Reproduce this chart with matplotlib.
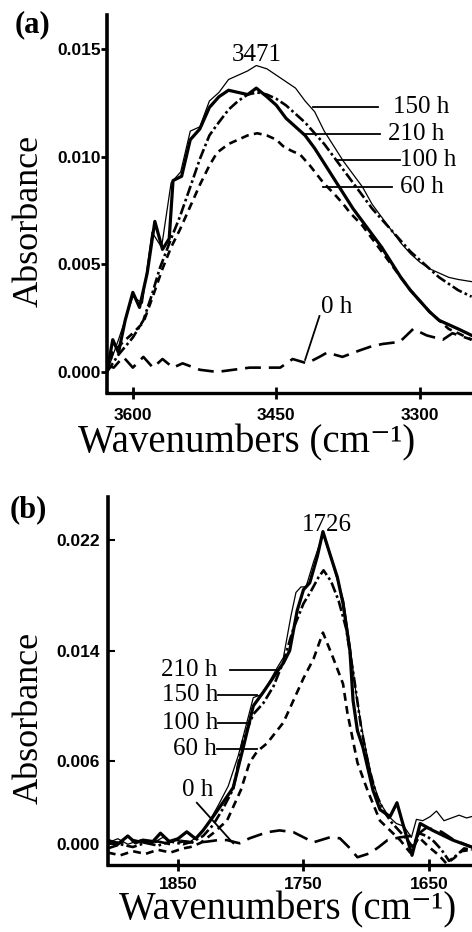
import matplotlib
matplotlib.use("Agg")
import matplotlib.pyplot as plt

plt.rcParams['font.family'] = ['Liberation Serif', 'DejaVu Serif']

# ---- panel (a): O-H region, absorbance in units of 0.001 ----
a_210_x = [3627, 3621, 3615, 3608, 3600, 3593, 3585, 3577, 3569, 3562, 3558, 3549, 3540, 3530, 3520,
           3510, 3500, 3490, 3480, 3471, 3460, 3450, 3440, 3430, 3420, 3410, 3400, 3390, 3380, 3370,
           3360, 3350, 3340, 3330, 3320, 3310, 3300, 3290, 3280, 3270, 3260, 3246]
a_210_y = [0, 1.5, 0.9, 2.4, 3.7, 3.0, 4.6, 7.0, 5.7, 6.2, 8.9, 9.1, 10.8, 11.3, 12.3,
           12.8, 13.1, 13.0, 12.9, 13.2, 12.8, 12.4, 11.8, 11.4, 11.0, 10.4, 9.7, 9.0, 8.3, 7.6,
           7.0, 6.4, 5.8, 5.1, 4.4, 3.8, 3.3, 2.8, 2.4, 2.2, 2.0, 1.7]

a_150_x = [3627, 3615, 3600, 3590, 3580, 3570, 3560, 3550, 3540, 3530, 3520, 3510, 3500, 3490,
           3480, 3471, 3460, 3450, 3440, 3430, 3420, 3410, 3400, 3390, 3380, 3370, 3360, 3350,
           3340, 3330, 3320, 3310, 3300, 3290, 3280, 3270, 3260, 3246]
a_150_y = [0, 1.5, 3.5, 3.2, 6.5, 5.8, 8.8, 9.3, 11.2, 11.4, 12.6, 13.0, 13.6, 13.8,
           14.0, 14.25, 14.1, 13.8, 13.5, 13.2, 12.6, 12.1, 11.2, 10.5, 9.8, 9.2, 8.6, 7.8,
           7.2, 6.6, 6.0, 5.5, 5.1, 4.8, 4.6, 4.4, 4.3, 4.2]

a_100_x = [3627, 3615, 3600, 3589, 3580, 3572, 3560, 3551, 3540, 3530, 3520, 3512, 3500, 3490,
           3480, 3470, 3460, 3450, 3440, 3430, 3420, 3410, 3400, 3390, 3380, 3370, 3360, 3350,
           3340, 3330, 3320, 3310, 3300, 3290, 3280, 3270, 3260, 3246]
a_100_y = [0, 0.8, 1.6, 2.4, 3.6, 4.8, 6.2, 7.2, 8.6, 9.9, 11.0, 11.5, 12.2, 12.6,
           12.9, 13.0, 12.9, 12.7, 12.4, 12.0, 11.6, 11.1, 10.6, 10.0, 9.4, 8.8, 8.2, 7.6,
           7.1, 6.6, 6.1, 5.6, 5.2, 4.8, 4.4, 4.1, 3.8, 3.5]

a_60_x = [3627, 3621, 3610, 3600, 3589, 3580, 3569, 3560, 3551, 3540, 3530, 3520, 3512, 3500,
          3490, 3480, 3470, 3460, 3450, 3443, 3435, 3425, 3415, 3401, 3390, 3380, 3373, 3360,
          3350, 3340, 3330, 3320, 3310, 3300, 3290, 3280, 3270, 3260, 3246]
a_60_y = [0, 0.9, 1.4, 1.8, 2.3, 3.4, 4.8, 5.8, 6.6, 7.7, 8.7, 9.6, 10.2, 10.6,
          10.8, 11.0, 11.1, 11.0, 10.8, 10.5, 10.3, 10.1, 9.6, 8.8, 8.3, 7.8, 7.4, 6.8,
          6.2, 5.6, 5.0, 4.4, 3.8, 3.3, 2.8, 2.4, 2.0, 1.8, 1.5]

a_0_x = [3627, 3620, 3610, 3600, 3589, 3579, 3569, 3558, 3548, 3530, 3512, 3495, 3478, 3460, 3446,
         3433, 3418, 3405, 3397, 3381, 3363, 3350, 3339, 3321, 3307, 3293, 3276, 3266, 3246]
a_0_y = [0.3, 0.2, 0.7, 0.2, 0.7, 0.2, 0.6, 0.2, 0.4, 0.1, 0.0, 0.1, 0.2, 0.2, 0.2,
         0.6, 0.4, 0.7, 0.9, 0.7, 1.0, 1.2, 1.3, 1.4, 2.0, 1.7, 1.5, 1.8, 1.5]

# ---- panel (b): C=O region ----
b_210_x = [1906, 1898, 1890, 1884, 1878, 1870, 1864, 1857, 1850, 1843, 1836, 1830, 1822, 1812, 1806,
           1798, 1790, 1782, 1776, 1770, 1766, 1761, 1755, 1750, 1745, 1739, 1734.5, 1729, 1723,
           1718.5, 1713, 1710.5, 1707, 1702.6, 1694.6, 1689, 1681, 1675.5, 1671.5, 1663.5, 1657,
           1647, 1631, 1616]
b_210_y = [0.3, 0.0, 0.6, 0.1, 0.3, 0.2, 0.8, 0.2, 0.4, 0.9, 0.4, 1.0, 2.0, 3.3, 4.1,
           7.0, 10.0, 11.0, 11.8, 12.6, 13.1, 14.0, 16.9, 18.4, 18.9, 20.8, 22.6, 21.0, 19.3,
           17.4, 14.0, 10.4, 8.2, 7.0, 3.9, 2.5, 2.0, 3.0, 1.7, -0.8, 1.5,
           1.0, 0.3, -0.2]

b_150_x = [1906, 1898, 1890, 1880, 1870, 1862, 1855, 1848, 1840, 1834, 1826, 1818, 1810, 1802, 1796,
           1790, 1784, 1778, 1772, 1766, 1760, 1756, 1752, 1748, 1742, 1736, 1734, 1730, 1724,
           1718, 1713, 1708, 1702, 1695, 1689, 1682, 1676, 1670, 1664, 1660, 1655, 1649, 1644,
           1638, 1632, 1626, 1620, 1616]
b_150_y = [0.1, 0.4, 0.0, 0.3, 0.1, 0.5, 0.2, 0.3, 0.2, 0.6, 1.5, 2.8, 4.2, 6.4, 8.5,
           10.6, 10.8, 11.6, 12.6, 13.5, 16.5, 18.2, 18.6, 18.6, 20.4, 22.0, 22.3, 21.2, 19.4,
           17.6, 14.4, 10.8, 7.6, 4.6, 3.0, 2.0, 1.5, 1.3, 0.5, 1.8, 1.7, 2.0, 2.4,
           1.7, 1.9, 2.1, 1.9, 2.0]

b_100_x = [1906, 1896, 1886, 1876, 1866, 1856, 1846, 1838, 1830, 1822, 1814, 1806, 1798, 1790,
           1782, 1774, 1766, 1758, 1750, 1744, 1738, 1734, 1728, 1722, 1716, 1710, 1704, 1698,
           1692, 1686, 1680, 1674, 1668, 1663, 1658, 1652, 1646, 1640, 1634, 1628, 1622, 1616]
b_100_y = [-0.3, 0.0, -0.2, 0.1, -0.1, 0.2, 0.0, 0.2, 0.6, 1.4, 2.6, 4.0, 7.6, 9.4,
           10.2, 11.4, 13.2, 15.6, 17.4, 18.3, 19.3, 19.8, 19.0, 17.6, 15.6, 12.2, 8.4, 5.6,
           3.6, 2.4, 1.6, 1.0, 0.4, -0.2, 0.8, 0.6, 0.2, -0.4, -1.2, -0.8, -0.3, -0.4]

b_60_x = [1906, 1896, 1886, 1876, 1866, 1856, 1846, 1840, 1832, 1822, 1811, 1800, 1793, 1787,
          1779, 1766, 1758, 1750, 1742, 1734.5, 1726.5, 1718.5, 1715, 1707, 1699, 1689, 1681,
          1673, 1665, 1658, 1650, 1642, 1636, 1630, 1624, 1616]
b_60_y = [-0.6, -0.8, -0.5, -0.7, -0.4, -0.6, -0.3, -0.2, 0.1, 0.8, 1.7, 3.9, 5.9, 6.7,
          7.3, 8.8, 10.4, 12.0, 13.4, 15.3, 13.5, 11.6, 9.5, 5.9, 3.9, 1.7, 1.0,
          0.3, -0.6, 0.5, -0.2, -0.8, -1.4, -1.0, -0.5, -0.4]

b_0_x = [1906, 1896, 1886, 1876, 1866, 1856, 1846, 1836, 1826, 1818, 1811, 1801, 1793, 1779, 1769,
         1758, 1742, 1729, 1721, 1714, 1707, 1697, 1690, 1683, 1673, 1660, 1652, 1640, 1630, 1616]
b_0_y = [0.2, 0.1, 0.3, 0.1, 0.2, 0.0, 0.2, 0.1, 0.2, 0.3, 0.3, 0.07, 0.43, 0.87, 1.0,
         0.87, 0.14, 0.5, 0.43, -0.2, -0.94, -0.65, -0.2, 0.3, 0.5, 0.65, 1.2, 0.9, 0.3, -0.2]

a_ticks = [3600, 3450, 3300]
a_yticks = [0.0, 0.005, 0.010, 0.015]
a_ylabels = ['0.000', '0.005', '0.010', '0.015']
b_ticks = [1850, 1750, 1650]
b_yticks = [0.0, 0.006, 0.014, 0.022]
b_ylabels = ['0.000', '0.006', '0.014', '0.022']

styles = {
    '210 h': dict(color='black', lw=2.3, ls='-'),
    '150 h': dict(color='black', lw=0.9, ls='-'),
    '100 h': dict(color='black', lw=1.9, ls=(0, (4, 1.2, 1, 1.2))),
    '60 h': dict(color='black', lw=1.9, ls=(0, (3, 2))),
    '0 h': dict(color='black', lw=1.9, ls=(0, (6, 3))),
}

tickfont = dict(family='Liberation Sans', weight='bold', size=12.5)
xlab = 'Wavenumbers (cm\u207b\u00b9)'


def scale(v):
    return [t / 1000.0 for t in v]


def setup(ax):
    for s in ['top', 'right']:
        ax.spines[s].set_visible(False)
    ax.spines['left'].set_linewidth(2.6)
    ax.spines['bottom'].set_linewidth(2.4)
    ax.set_facecolor('none')


def px(x, y):
    # pixel position (from top-left) -> figure fraction
    return x / 472, 1 - y / 932


fig = plt.figure(figsize=(4.72, 9.32), dpi=100)

# ---------------- (a) ----------------
ax1 = fig.add_axes([107 / 472, 1 - 393 / 932, 1 - 107 / 472, (393 - 15) / 932])
setup(ax1)
ax1.plot(a_0_x, scale(a_0_y), **styles['0 h'])
ax1.plot(a_60_x, scale(a_60_y), **styles['60 h'])
ax1.plot(a_100_x, scale(a_100_y), **styles['100 h'])
ax1.plot(a_150_x, scale(a_150_y), **styles['150 h'])
ax1.plot(a_210_x, scale(a_210_y), **styles['210 h'])
ax1.set_xlim(3627, 3245.6)
ax1.set_ylim(-0.00098, 0.0166)
ax1.set_xticks(a_ticks)
ax1.set_xticklabels([str(t) for t in a_ticks], fontdict=tickfont)
ax1.set_yticks(a_yticks)
ax1.set_yticklabels(a_ylabels, fontdict=tickfont)
ax1.tick_params(axis='y', direction='out', length=4, width=2, pad=0.5)
ax1.tick_params(axis='x', direction='inout', length=9, width=2, pad=6)

ax1.text(3470.4, 0.01476, '3471', ha='center', va='center', fontsize=18)
a_labels = [('150 h', 3412, 3344, 3328, 0.0123),
            ('210 h', 3422, 3342, 3333, 0.01107),
            ('100 h', 3387, 3321, 3321, 0.00986),
            ('60 h', 3401, 3329, 3321, 0.0086)]
for name, x0, x1, xt, yv in a_labels:
    ax1.plot([x0, x1], [yv, yv], color='black', lw=1.3)
    ax1.text(xt, yv, name, ha='left', va='center', fontsize=18)
ax1.plot([3405, 3420], [0.0026, 0.00056], color='black', lw=1.3)
ax1.text(3387, 0.0030, '0 h', ha='center', va='center', fontsize=18)

fig.text(*px(29, 221), 'Absorbance', rotation=90, ha='center', va='center', fontsize=26)
fig.text(*px(247, 452), xlab, ha='center', va='baseline', fontsize=28)
fig.text(*px(32, 25), '(a)', ha='center', va='center', fontsize=22, weight='bold')

# ---------------- (b) ----------------
ax2 = fig.add_axes([108 / 472, 1 - 865 / 932, 1 - 108 / 472, (865 - 497) / 932])
setup(ax2)
ax2.plot(b_0_x, scale(b_0_y), **styles['0 h'])
ax2.plot(b_60_x, scale(b_60_y), **styles['60 h'])
ax2.plot(b_100_x, scale(b_100_y), **styles['100 h'])
ax2.plot(b_150_x, scale(b_150_y), **styles['150 h'])
ax2.plot(b_210_x, scale(b_210_y), **styles['210 h'])
ax2.set_xlim(1905.8, 1615.7)
ax2.set_ylim(-0.0015, 0.0251)
ax2.set_xticks(b_ticks)
ax2.set_xticklabels([str(t) for t in b_ticks], fontdict=tickfont)
ax2.set_yticks(b_yticks)
ax2.set_yticklabels(b_ylabels, fontdict=tickfont)
ax2.tick_params(axis='y', direction='in', length=5, width=1.5, pad=5.8)
ax2.tick_params(axis='x', direction='inout', length=9, width=2, pad=4)

ax2.text(1731.3, 0.0231, '1726', ha='center', va='center', fontsize=18)
b_labels = [('210 h', 1808.6, 1770.3, 1819, 0.0126),
            ('150 h', 1818, 1787, 1818, 0.0108),
            ('100 h', 1818, 1795, 1818, 0.0088),
            ('60 h', 1819, 1787, 1819, 0.0069)]
for name, x0, x1, xt, yv in b_labels:
    ax2.plot([x0, x1], [yv, yv], color='black', lw=1.3)
    ax2.text(xt, yv, name, ha='right', va='center', fontsize=18)
ax2.plot([1835, 1806], [0.0030, 0.00007], color='black', lw=1.3)
ax2.text(1834, 0.0039, '0 h', ha='center', va='center', fontsize=18)

fig.text(*px(29, 718), 'Absorbance', rotation=90, ha='center', va='center', fontsize=26)
fig.text(*px(288, 919), xlab, ha='center', va='baseline', fontsize=28)
fig.text(*px(28, 510), '(b)', ha='center', va='center', fontsize=22, weight='bold')

fig.savefig('out.png', dpi=100)
